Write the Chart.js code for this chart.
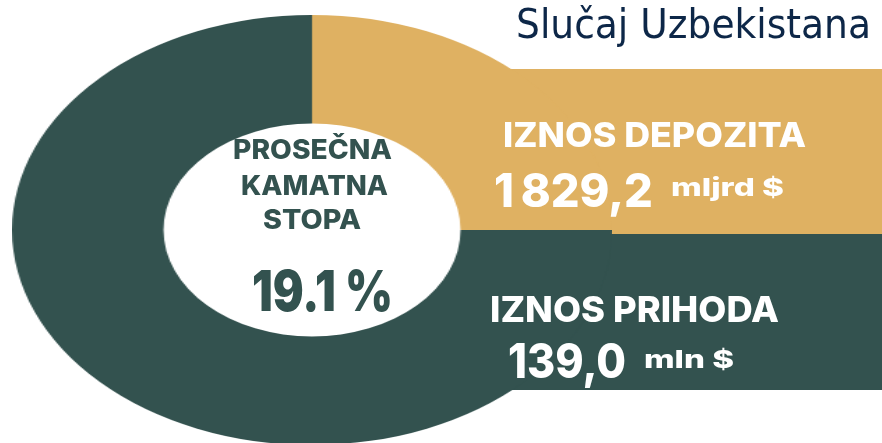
<!DOCTYPE html>
<html>
<head>
<meta charset="utf-8">
<script src="https://cdn.jsdelivr.net/npm/chart.js@4"></script>
<style>
  html,body{margin:0;padding:0;background:#fff;}
  #stage{position:relative;width:882px;height:443px;overflow:hidden;background:#fff;font-family:Inter,sans-serif;}
  .panel{position:absolute;}
  #ring{position:absolute;left:97px;top:15px;width:430px;height:430px;transform:scaleX(1.3953);transform-origin:215px 215px;}
  .t{position:absolute;white-space:nowrap;line-height:1;}
  .w{color:#fff;font-weight:800;}
  .g{color:#33524f;font-weight:800;}
  #title{font-family:"DejaVu Sans",sans-serif;font-stretch:condensed;color:#0d2748;font-weight:400;transform-origin:0 0;}
</style>
</head>
<body>
<div id="stage">
  <div class="panel" id="goldPanel" style="left:470px;top:69px;width:412px;height:166px;background:#dfb162;"></div>
  <div class="panel" id="greenPanel" style="left:470px;top:234px;width:412px;height:156px;background:#33524f;"></div>
  <div id="ring"><canvas id="donut" width="430" height="430"></canvas></div>

  <div class="t" id="title" data-w="355" style="left:516px;top:4px;font-size:41px;">Slučaj Uzbekistana</div>

  <div class="t w" id="depLabel" data-w="303" style="left:503px;font-size:34px;" data-base="147">IZNOS DEPOZITA</div>
  <div class="t w" id="depValue" data-w="159" style="left:494px;font-size:47px;" data-base="207"></div>
  <div class="t w" id="depUnit" data-w="113" style="left:671px;font-size:25px;" data-base="197"></div>

  <div class="t w" id="incLabel" data-w="289" style="left:490px;font-size:36px;" data-base="322">IZNOS PRIHODA</div>
  <div class="t w" id="incValue" data-w="118" style="left:508px;font-size:48px;" data-base="378"></div>
  <div class="t w" id="incUnit" data-w="90" style="left:644px;font-size:25px;" data-base="369"></div>

  <div class="t g" id="c1" data-w="159" style="left:233px;font-size:27px;" data-base="159">PROSEČNA</div>
  <div class="t g" id="c2" data-w="147" style="left:241px;font-size:27px;" data-base="195">KAMATNA</div>
  <div class="t g" id="c3" data-w="98" style="left:263px;font-size:27px;" data-base="229">STOPA</div>
  <div class="t g" id="rate" data-w="141" style="left:252px;font-size:56px;font-weight:900;" data-base="311"></div>
</div>
<script>
const segments=['Iznos depozita','Iznos prihoda'];
const shares=[25,75];
const colors=['#dfb162','#33524f'];
const rate='19.1 %';
const deposit='1\u2009829,2';
const depositUnit='mljrd $';
const income='139,0';
const incomeUnit='mln $';

document.getElementById('depValue').textContent=deposit;
document.getElementById('depUnit').textContent=depositUnit;
document.getElementById('incValue').textContent=income;
document.getElementById('incUnit').textContent=incomeUnit;
document.getElementById('rate').textContent=rate;

// place text by baseline (Inter: baseline sits ~0.864em below the top of a line-height:1 box)
document.querySelectorAll('[data-base]').forEach(el=>{
  const size=parseFloat(el.style.fontSize);
  el.style.top=(parseFloat(el.dataset.base)-0.864*size)+'px';
});
// squeeze/stretch strings to the widths
document.querySelectorAll('[data-w]').forEach(el=>{
  const w=el.getBoundingClientRect().width;
  el.style.transformOrigin='0 0';
  el.style.transform='scaleX('+(parseFloat(el.dataset.w)/w)+')';
});

new Chart(document.getElementById('donut'),{
  type:'doughnut',
  data:{labels:segments,datasets:[{data:shares,backgroundColor:colors,borderWidth:0,hoverOffset:0,offset:0}]},
  options:{
    responsive:false,
    animation:false,
    cutout:'49.5%',
    layout:{padding:0},
    events:[],
    plugins:{legend:{display:false},tooltip:{enabled:false}}
  }
});
</script>
</body>
</html>
